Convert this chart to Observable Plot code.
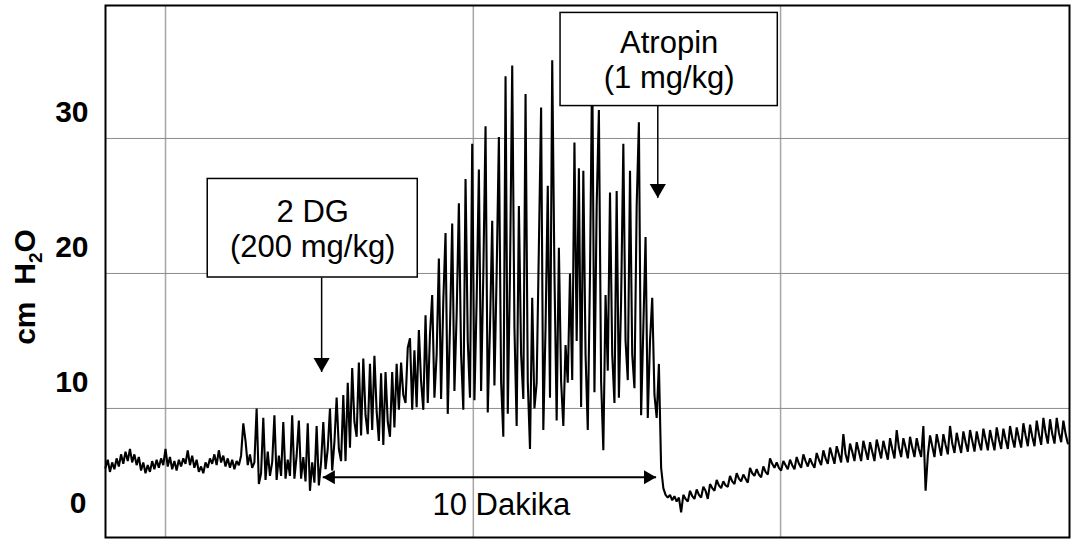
<!DOCTYPE html>
<html>
<head>
<meta charset="utf-8">
<script src="https://cdn.jsdelivr.net/npm/d3@7"></script>
<script src="https://cdn.jsdelivr.net/npm/@observablehq/plot@0.6"></script>
<style>
  html, body { margin: 0; padding: 0; background: #fff; }
</style>
</head>
<body>
<div id="chart"></div>
<script>
// ---- data (cm H2O, one sample every 4 s) ----
const dt = 4;

const baseline = [
  5.6, 6.2, 5.3, 6.0, 5.5,
  6.3, 5.7, 6.6, 5.9, 6.8, 6.1, 7.0, 6.0, 6.6, 5.8, 6.4,
  5.4, 6.0, 5.2, 5.8, 5.3, 6.1, 5.5, 6.2, 5.6, 6.3,
  5.8, 7.0, 5.7, 6.4, 5.5, 6.1, 5.4, 6.2,
  5.7, 6.3, 5.9, 6.9, 5.8, 6.5, 5.6, 6.2, 5.3,
  5.7, 5.2, 6.0, 5.6, 6.3, 5.9, 6.6, 5.8,
  6.9, 6.0, 6.5, 5.7, 6.3, 5.6, 6.2, 5.5, 6.1, 5.8
];

const preDose = [
  6.5, 8.9, 7.6, 5.8, 6.6, 5.6, 6.0, 10.0, 4.4, 5.2,
  9.3, 4.7, 6.8, 5.0, 6.0, 9.5, 4.7, 6.5, 5.0, 9.0,
  4.8, 6.2, 5.0, 9.5, 4.8, 6.5, 9.1, 4.8, 6.4, 4.6,
  8.9, 3.9, 6.0, 4.5, 8.7, 4.3, 6.0
];

const response = [
  9.0, 5.5, 7.0, 10.0, 5.4, 7.5, 10.8, 7.0, 6.1, 11.0,
  6.1, 11.9, 7.1, 13.0, 9.0, 7.9, 13.4, 8.0, 13.7, 9.5,
  8.1, 13.3, 8.4, 13.9, 9.8, 7.6, 12.6, 7.3, 12.7, 9.0,
  7.9, 12.7, 8.6, 13.3, 9.9, 13.4, 11.0, 10.4, 14.5, 15.2,
  9.9, 14.3, 10.1, 15.8, 12.0, 9.9, 16.9, 10.4, 15.5, 18.4,
  10.8, 14.0, 21.1, 10.7, 18.0, 23.0, 9.6, 16.0, 23.7, 11.3,
  17.0, 25.2, 14.0, 9.9, 27.0, 15.0, 10.8, 29.6, 10.6, 18.0,
  27.7, 11.3, 20.0, 30.9, 9.7, 16.0, 23.9, 11.7, 20.0, 30.1,
  12.0, 7.9, 34.6, 9.6, 20.0, 35.4, 16.0, 8.7, 25.0, 14.0,
  10.7, 33.3, 12.0, 7.0, 18.2, 10.0, 11.9, 22.0, 32.3, 8.4,
  16.0, 26.5, 10.8, 35.8, 20.0, 9.1, 21.9, 12.0, 8.7, 14.7,
  11.9, 20.0, 12.1, 29.7, 15.0, 27.8, 10.1, 27.6, 14.0, 8.4,
  20.0, 36.0, 11.2, 25.0, 32.1, 12.0, 6.9, 18.4, 12.8, 26.0,
  14.0, 10.4, 26.1, 10.8, 18.0, 29.6, 15.0, 12.1, 27.6, 14.0,
  11.5, 25.0, 31.2, 9.5, 16.0, 22.7, 9.3, 15.0, 18.2, 11.0,
  9.3, 13.3, 5.6, 4.1, 3.6, 3.4, 3.6, 3.2, 3.5, 3.1, 3.4, 2.3
];

const recovery = [
  3.6, 3.3, 3.1,  3.9, 3.5, 3.3,  4.0, 3.6, 3.4,  4.2, 3.9, 3.3,  4.4, 4.1, 3.9,
  4.7, 4.3, 4.1,  4.6, 4.3, 4.2,  5.0, 4.6, 4.4,  5.2, 4.8, 4.6,  5.1, 4.8, 4.5,
  5.6, 5.2, 5.0,  5.5, 5.1, 4.9,  5.7, 5.3, 5.1,  6.3, 5.9, 5.6,  6.0, 5.6, 5.4,
  6.1, 5.8, 5.5,  6.2, 5.8, 5.5,  6.4, 5.9, 5.6,  6.6, 6.1, 5.7,  6.3, 5.9, 5.6,
  6.7, 6.2, 5.8,  6.9, 6.3, 5.9,  7.1, 6.5, 5.9,  7.2, 6.6, 6.0,  8.1, 6.6, 6.0,
  7.4, 6.8, 6.1,  7.5, 6.8, 6.1,  7.6, 6.9, 6.2,  7.5, 6.8, 6.1,  7.7, 7.0, 6.3,
  7.6, 6.9, 6.2,  7.8, 7.0, 6.3,  8.4, 7.1, 6.4,  7.8, 7.1, 6.3,  7.9, 7.1, 6.4,
  7.8, 7.0, 6.4,  8.7, 3.9, 6.5,  8.0, 7.2, 6.4,  8.1, 7.3, 6.5,  8.1, 7.3, 6.6,
  8.7, 7.4, 6.7,  8.2, 7.4, 6.7,  8.3, 7.5, 6.8,  8.4, 7.6, 6.8,  8.3, 7.5, 6.9,
  8.5, 7.7, 6.9,  8.4, 7.6, 6.9,  8.6, 7.7, 7.0,  8.5, 7.7, 7.0,  8.7, 7.8, 7.1,
  8.6, 7.8, 7.1,  8.9, 8.0, 7.2,  8.8, 7.9, 7.2,  9.1, 8.1, 7.3,  9.3, 8.2, 7.4,
  9.2, 8.1, 7.4,  9.3, 8.2, 7.5,  9.1, 8.1, 7.4
];

const yTickValues = [10, 20, 30];
const yZeroTick = [0];
const gridTimes = [108, 662, 1215];          // s, vertical grid lines

const doseNames = ["2 DG\n(200 mg/kg)", "Atropin\n(1 mg/kg)"];
const doseTimes = [389, 994];                // s, injection arrows
const doseTips = [12.7, 25.6];               // cm H2O, arrow tips
const boxTimes = [[184, 562], [819, 1210]];  // s
const boxValues = [[19.7, 27.0], [32.4, 39.3]]; // cm H2O

const spanTimes = [391, 991];                // 10 minutes
const spanLevel = 4.9;
const spanLabel = "10 Dakika";

// ---- build tables ----
const pressure = [...baseline, ...preDose, ...response, ...recovery]
  .map((v, i) => ({t: i * dt, v}));

const notes = doseNames.map((label, i) => ({
  label,
  t: doseTimes[i],
  tip: doseTips[i],
  t1: boxTimes[i][0], t2: boxTimes[i][1],
  v1: boxValues[i][0], v2: boxValues[i][1],
  tc: (boxTimes[i][0] + boxTimes[i][1]) / 2,
  vc: (boxValues[i][0] + boxValues[i][1]) / 2
}));
const span = [{t1: spanTimes[0], t2: spanTimes[1], v: spanLevel, label: spanLabel}];

const FONT = "'Liberation Sans', Arial, Helvetica, sans-serif";

const chart = Plot.plot({
  width: 1071,
  height: 541,
  marginLeft: 105,
  marginRight: 2,
  marginTop: 5,
  marginBottom: 4,
  style: {fontFamily: FONT, background: "#fff", color: "#000", overflow: "visible"},
  x: {domain: [0, 1735], axis: null},
  y: {domain: [0.44, 39.85], axis: null},
  marks: [
    Plot.gridX({ticks: gridTimes, stroke: "#a6a6a6", strokeOpacity: 1, strokeWidth: 1.5}),
    Plot.gridY({ticks: yTickValues, stroke: "#8c8c8c", strokeOpacity: 1, strokeWidth: 1}),
    Plot.line(pressure, {x: "t", y: "v", stroke: "#000", strokeWidth: 2.1, strokeLinejoin: "miter"}),
    Plot.rect(notes, {x1: "t1", x2: "t2", y1: "v1", y2: "v2", fill: "#fff", stroke: "#000", strokeWidth: 1.5}),
    Plot.text(notes, {x: "tc", y: "vc", text: "label", fontSize: 31, lineHeight: 1.14, fill: "#000"}),
    Plot.link(notes, {x1: "t", x2: "t", y1: "v1", y2: "tip", stroke: "#000", strokeWidth: 1.5}),
    Plot.dot(notes, {x: "t", y: "tip", symbol: "triangle", r: 6, rotate: 180, fill: "#000", stroke: "none", dy: -9.3}),
    Plot.link(span, {x1: "t1", x2: "t2", y1: "v", y2: "v", stroke: "#000", strokeWidth: 2}),
    Plot.dot(span, {x: "t1", y: "v", symbol: "triangle", r: 5.2, rotate: -90, fill: "#000", stroke: "none", dx: 8.1}),
    Plot.dot(span, {x: "t2", y: "v", symbol: "triangle", r: 5.2, rotate: 90, fill: "#000", stroke: "none", dx: -8.1}),
    Plot.text(span, {x: d => (d.t1 + d.t2) / 2, y: "v", text: "label", fontSize: 31, dx: 12, dy: 28, fill: "#000"}),
    Plot.text(yTickValues, {y: d => d, text: d => String(d), frameAnchor: "left", textAnchor: "end", dx: -17, dy: -26, fontSize: 30, fontWeight: "bold", fill: "#000"}),
    Plot.text(yZeroTick, {y: d => d, text: d => String(d), frameAnchor: "left", textAnchor: "end", dx: -19, dy: -40, fontSize: 30, fontWeight: "bold", fill: "#000"}),
    Plot.frame({stroke: "#000", strokeWidth: 2})
  ]
});

document.getElementById("chart").appendChild(chart);

// y-axis title with subscript
const svg = d3.select(chart);
const title = svg.append("text")
  .attr("transform", "translate(35,287) rotate(-90)")
  .attr("text-anchor", "middle")
  .attr("font-family", FONT)
  .attr("font-size", 30)
  .attr("font-weight", "bold")
  .attr("fill", "#000");
title.append("tspan").text("cm\u00a0\u00a0H");
title.append("tspan").attr("font-size", 19).attr("dy", 7).text("2");
title.append("tspan").attr("dy", -7).text("O");
</script>
</body>
</html>
